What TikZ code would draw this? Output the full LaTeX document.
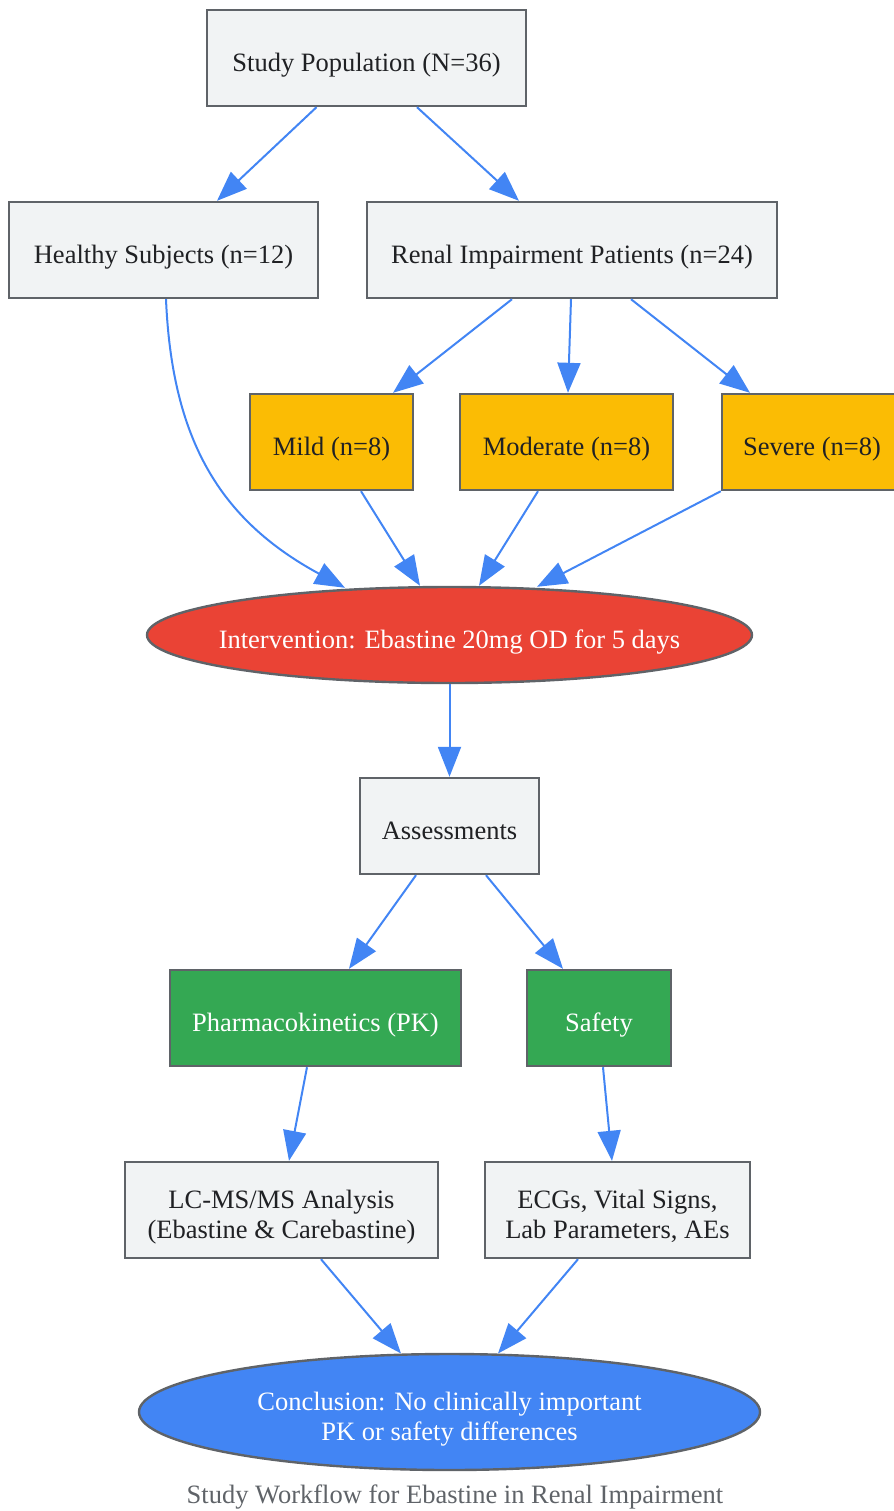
\documentclass[tikz,border=0pt]{standalone}
\usepackage{fontspec}
\setmainfont{Liberation Serif}
\usepackage{tikz}
\usetikzlibrary{calc,positioning,arrows.meta,shapes}
\usepackage{xcolor}
\definecolor{boxgray}{HTML}{F1F3F4}
\definecolor{linegray}{HTML}{5F6368}
\definecolor{textdark}{HTML}{202124}
\definecolor{groupyellow}{HTML}{FBBC04}
\definecolor{dosered}{HTML}{EA4335}
\definecolor{assessgreen}{HTML}{34A853}
\definecolor{resultblue}{HTML}{4285F4}

\begin{document}
\begin{tikzpicture}[
        x=0.5pt, y=-0.5pt,
        font=\fontsize{13.25}{15.25}\selectfont,
        gstyle/.style={draw=linegray, line width=1.2pt, fill=boxgray, text=textdark, minimum height=48pt, inner sep=0pt, align=center, text height=13pt, text depth=0pt},
        twoline/.style={text height=28.5pt},
        ystyle/.style={gstyle, fill=groupyellow},
        tstyle/.style={gstyle, fill=assessgreen, text=white},
        estyle/.style={ellipse, draw=linegray, line width=1.2pt, text=white, inner sep=0pt, align=center, text height=13pt, text depth=0pt},
        pathstyle/.style={-{Triangle[length=15pt,width=11.5pt]}, draw=resultblue, line width=1pt}
      ]
        \useasboundingbox (0,0) rectangle (894,1511);

        \node[gstyle, minimum width=159.5pt] (POP) at (366.5,58)
          {Study Population (N=36)};
        \node[gstyle, minimum width=154.5pt] (HEALTHY) at (163.5,250)
          {Healthy Subjects (n=12)};
        \node[gstyle, minimum width=205pt] (RENAL) at (572,250)
          {Renal Impairment Patients (n=24)};
        \node[ystyle, minimum width=81.5pt] (MILD) at (331.5,442)
          {Mild (n=8)};
        \node[ystyle, minimum width=106.5pt] (MODERATE) at (566.5,442)
          {Moderate (n=8)};
        \node[ystyle, minimum width=90pt] (SEVERE) at (812,442)
          {Severe (n=8)};
        \node[estyle, fill=dosered, inner xsep=-10.5pt, minimum width=302.5pt, minimum height=48pt] (DOSE) at (449.5,635)
          {Intervention: Ebastine 20mg OD for 5 days};
        \node[gstyle, minimum width=89.5pt] (ASSESS) at (449.5,826)
          {Assessments};
        \node[tstyle, minimum width=145.5pt] (PK) at (315.5,1018)
          {Pharmacokinetics (PK)};
        \node[tstyle, minimum width=72pt] (SAFETY) at (599,1018)
          {Safety};
        \node[gstyle, twoline, minimum width=156.5pt] (LCMS) at (281.5,1210)
          {LC-MS/MS Analysis\\(Ebastine \& Carebastine)};
        \node[gstyle, twoline, minimum width=132.5pt] (ECG) at (617.5,1210)
          {ECGs, Vital Signs,\\Lab Parameters, AEs};
        \node[estyle, twoline, fill=resultblue, minimum width=310.5pt, minimum height=58pt] (CONCL) at (449.5,1412)
          {Conclusion: No clinically important\\PK or safety differences};
        \node[text=linegray] (CAPTION) at (455,1497)
          {Study Workflow for Ebastine in Renal Impairment};

        \draw[pathstyle] ($(POP.south)+(-50,0)$) -- ($(HEALTHY.north)+(53.5,0)$);
        \draw[pathstyle] ($(POP.south)+(50.5,0)$) -- ($(RENAL.north)+(-53,0)$);
        \draw[pathstyle] ($(RENAL.south)+(-60,0)$) -- ($(MILD.north)+(61.5,0)$);
        \draw[pathstyle] ($(RENAL.south)+(-1,0)$) -- ($(MODERATE.north)+(1.5,0)$);
        \draw[pathstyle] ($(RENAL.south)+(59,0)$) -- ($(SEVERE.north)+(-62,0)$);
        \draw[pathstyle] ($(HEALTHY.south)+(2.5,0)$) .. controls (172,440) and (220,520) .. ($(DOSE.north)+(-104.5,2)$);
        \draw[pathstyle] ($(MILD.south)+(29.5,0)$) -- ($(DOSE.north)+(-29.5,0)$);
        \draw[pathstyle] ($(MODERATE.south)+(-28.5,0)$) -- ($(DOSE.north)+(29.5,0)$);
        \draw[pathstyle] (SEVERE.south west) -- ($(DOSE.north)+(87.5,1)$);
        \draw[pathstyle] (DOSE.south) -- (ASSESS.north);
        \draw[pathstyle] ($(ASSESS.south)+(-33.5,0)$) -- ($(PK.north)+(33.5,0)$);
        \draw[pathstyle] ($(ASSESS.south)+(36.5,0)$) -- ($(SAFETY.north)+(-36,0)$);
        \draw[pathstyle] ($(PK.south)+(-8.5,0)$) -- ($(LCMS.north)+(7.5,0)$);
        \draw[pathstyle] ($(SAFETY.south)+(4,0)$) -- ($(ECG.north)+(-5.5,0)$);
        \draw[pathstyle] ($(LCMS.south)+(39.5,0)$) -- ($(CONCL.north)+(-48.5,0.7)$);
        \draw[pathstyle] ($(ECG.south)+(-39.5,0)$) -- ($(CONCL.north)+(48.5,0.7)$);
      \end{tikzpicture}
\end{document}
